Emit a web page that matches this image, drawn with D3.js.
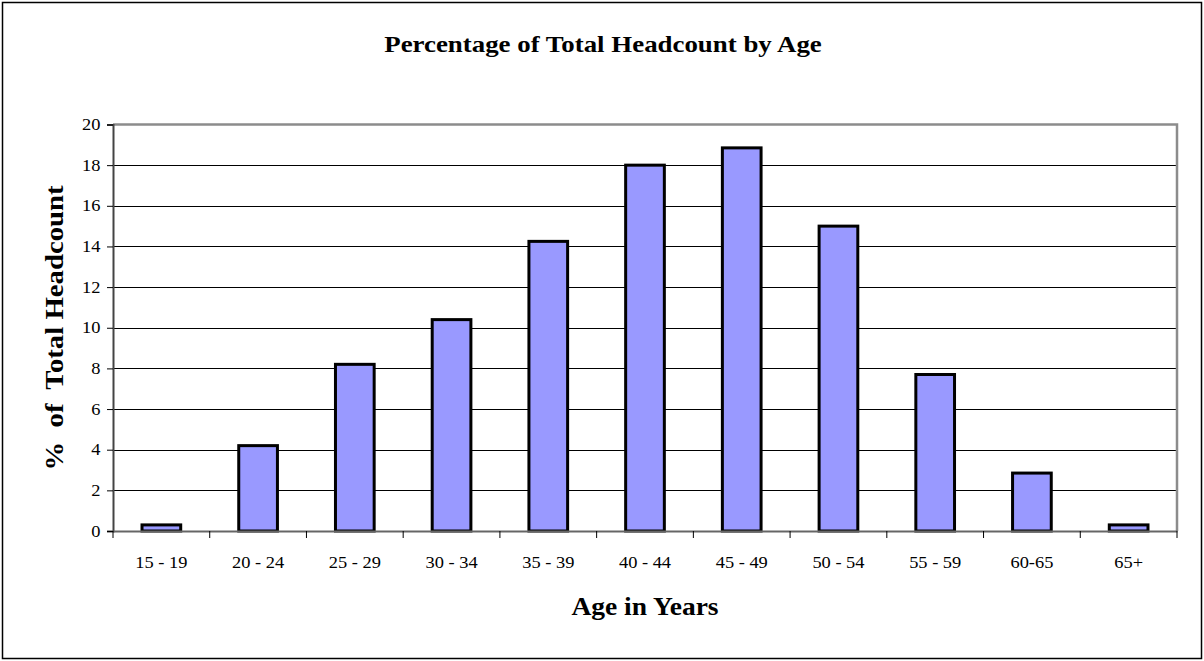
<!DOCTYPE html>
<html>
<head>
<meta charset="utf-8">
<script src="https://cdn.jsdelivr.net/npm/d3@7"></script>
<style>
  html, body { margin: 0; padding: 0; background: #fff; }
  svg { display: block; font-family: "Liberation Serif", "Times New Roman", serif; }
</style>
</head>
<body>
<svg id="chart" width="1204" height="661"></svg>
<script>
// Age bands and their share of total headcount (%)
const ageBands = ["15 - 19", "20 - 24", "25 - 29", "30 - 34", "35 - 39", "40 - 44",
                  "45 - 49", "50 - 54", "55 - 59", "60-65", "65+"];
const headcountPct = [0.3, 4.2, 8.2, 10.4, 14.25, 18.0, 18.85, 15.0, 7.7, 2.85, 0.3];
const yTicks = [0, 2, 4, 6, 8, 10, 12, 14, 16, 18, 20];

const svg = d3.select("#chart");
const W = 1204, H = 661;
const plot = { left: 113, right: 1177, top: 124.5, bottom: 531 };
const stretch = 1.15; // horizontally widened serif lettering

// outer frame
svg.append("rect")
  .attr("x", 2.5).attr("y", 2.5)
  .attr("width", W - 5).attr("height", H - 5)
  .attr("fill", "#fff").attr("stroke", "#000").attr("stroke-width", 1.5);

const x = d3.scaleBand()
  .domain(ageBands)
  .range([plot.left, plot.right])
  .paddingInner(0.6)
  .paddingOuter(0.3);

const xBand = d3.scaleBand().domain(ageBands).range([plot.left, plot.right]);

const y = d3.scaleLinear().domain([0, 20]).range([plot.bottom, plot.top]);

// gridlines
svg.append("g")
  .selectAll("line")
  .data(yTicks.filter(d => d > 0 && d < 20))
  .join("line")
  .attr("x1", plot.left).attr("x2", plot.right)
  .attr("y1", d => Math.round(y(d)) + 0.5).attr("y2", d => Math.round(y(d)) + 0.5)
  .attr("stroke", "#000").attr("stroke-width", 1);

// plot frame: top and right in grey
svg.append("path")
  .attr("d", `M${plot.left},${plot.top}H${plot.right}V${plot.bottom}`)
  .attr("fill", "none").attr("stroke", "#8c8c8c").attr("stroke-width", 2.5);

// bars
svg.append("g")
  .selectAll("rect")
  .data(ageBands.map((b, i) => ({ band: b, value: headcountPct[i] })))
  .join("rect")
  .attr("x", d => x(d.band))
  .attr("y", d => y(d.value))
  .attr("width", x.bandwidth())
  .attr("height", d => y(0) - y(d.value))
  .attr("fill", "#9999ff")
  .attr("stroke", "#000")
  .attr("stroke-width", 3);

// y axis
const yAxis = svg.append("g")
  .attr("transform", `translate(${plot.left},0)`)
  .call(d3.axisLeft(y).tickValues(yTicks).tickSize(6).tickPadding(5).tickFormat(d3.format("d")));
yAxis.select(".domain").attr("stroke", "#444").attr("stroke-width", 2);
yAxis.selectAll(".tick line").attr("stroke", "#000");
yAxis.selectAll(".tick text")
  .attr("font-family", "Liberation Serif, serif")
  .attr("font-size", 16).attr("fill", "#000")
  .attr("transform", `scale(${stretch},1)`);

// x axis with ticks at category boundaries
const xAxis = svg.append("g")
  .attr("transform", `translate(0,${plot.bottom})`)
  .call(d3.axisBottom(xBand).tickSize(0).tickPadding(26));
xAxis.select(".domain").attr("stroke", "#666").attr("stroke-width", 2);
xAxis.selectAll(".tick text")
  .attr("font-family", "Liberation Serif, serif")
  .attr("font-size", 16).attr("fill", "#000")
  .attr("transform", `scale(${stretch},1)`);
xAxis.append("g")
  .selectAll("line")
  .data(d3.range(ageBands.length + 1))
  .join("line")
  .attr("x1", i => plot.left + i * xBand.step())
  .attr("x2", i => plot.left + i * xBand.step())
  .attr("y1", 0).attr("y2", 7)
  .attr("stroke", "#000").attr("stroke-width", 1);

// titles
svg.append("text")
  .attr("transform", "translate(603,51.5) scale(1.12,1)")
  .attr("text-anchor", "middle")
  .attr("font-weight", "bold").attr("font-size", 24)
  .text("Percentage of Total Headcount by Age");

svg.append("text")
  .attr("transform", "translate(645,615) scale(1.1,1)")
  .attr("text-anchor", "middle")
  .attr("font-weight", "bold").attr("font-size", 25)
  .text("Age in Years");

svg.append("text")
  .attr("transform", "translate(63,328) rotate(-90) scale(1.15,1)")
  .attr("text-anchor", "middle")
  .attr("font-weight", "bold").attr("font-size", 25)
  .style("white-space", "pre")
  .text("%  of  Total Headcount");
</script>
</body>
</html>
